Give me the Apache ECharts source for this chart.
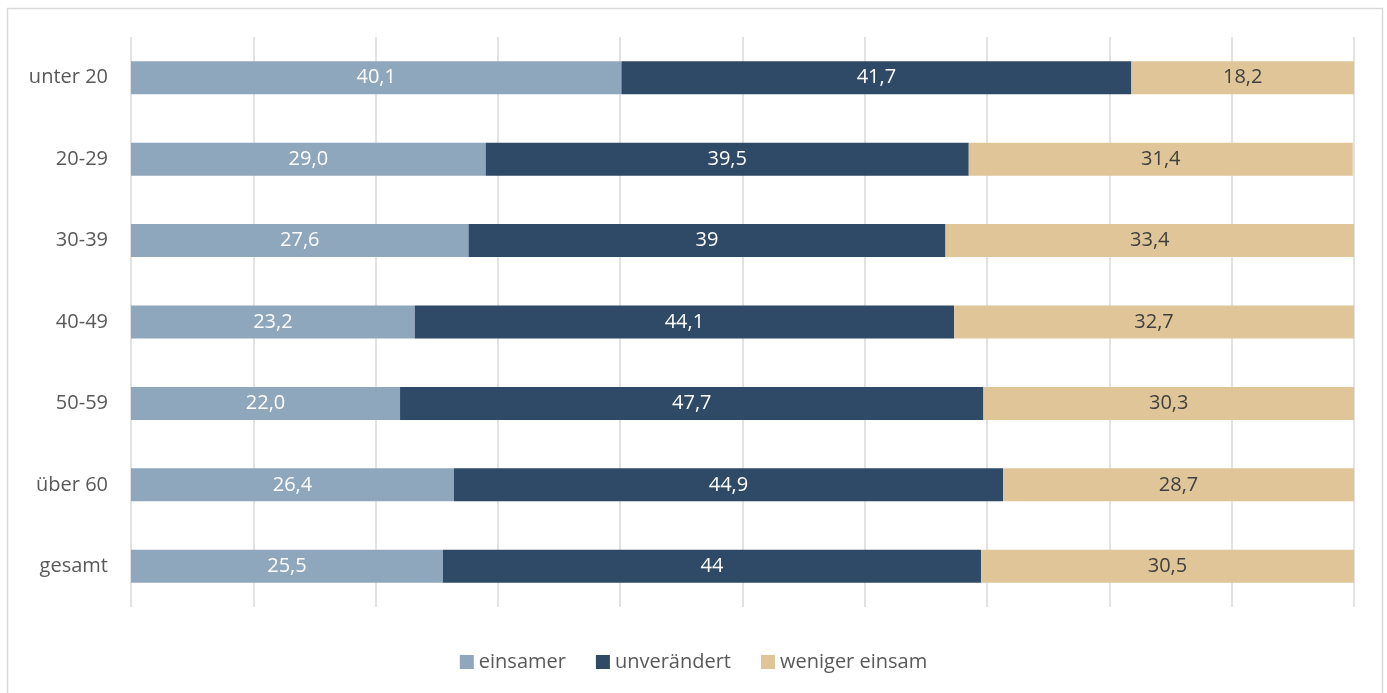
<!DOCTYPE html>
<html>
<head>
<meta charset="utf-8">
<style>
  html, body { margin: 0; padding: 0; background: #fff; }
  #chart { width: 1387px; height: 693px; }
</style>
<script src="https://cdn.jsdelivr.net/npm/echarts@6/dist/echarts.min.js"></script>
</head>
<body>
<div id="chart"></div>
<script>
// Age groups, top to bottom
const categories = ['unter 20', '20-29', '30-39', '40-49', '50-59', 'über 60', 'gesamt'];
// Shares in percent, written as printed (decimal places kept for the labels)
const einsamer      = ['40.1', '29.0', '27.6', '23.2', '22.0', '26.4', '25.5'];
const unveraendert  = ['41.7', '39.5', '39',   '44.1', '47.7', '44.9', '44'];
const wenigerEinsam = ['18.2', '31.4', '33.4', '32.7', '30.3', '28.7', '30.5'];
const seriesNames = ['einsamer', 'unverändert', 'weniger einsam'];

const FONT = '"Open Sans", "Noto Sans", sans-serif';
const chart = echarts.init(document.getElementById('chart'), null, { renderer: 'canvas' });

function barSeries(name, values, color, labelColor) {
  return {
    name: name,
    type: 'bar',
    stack: 'total',
    barWidth: 33,
    data: values,
    itemStyle: { color: color },
    label: {
      show: true,
      position: 'inside',
      color: labelColor,
      fontFamily: FONT,
      fontSize: 20,
      formatter: p => String(p.data).replace('.', ',')
    },
    emphasis: { disabled: true }
  };
}

chart.setOption({
  animation: false,
  backgroundColor: '#fff',
  grid: { left: 131, right: 33, top: 37, bottom: 86, containLabel: false },
  xAxis: {
    type: 'value',
    min: 0,
    max: 100,
    interval: 10,
    axisLabel: { show: false },
    axisLine: { show: false },
    axisTick: { show: false },
    splitLine: { show: true, lineStyle: { color: '#d9d9d9', width: 1.5 } }
  },
  yAxis: {
    type: 'category',
    inverse: true,
    data: categories,
    axisLine: { show: false },
    axisTick: { show: false },
    axisLabel: { color: '#595959', fontFamily: FONT, fontSize: 20, margin: 23 }
  },
  legend: {
    bottom: 16,
    left: 'center',
    itemWidth: 14,
    itemHeight: 14,
    itemGap: 30,
    icon: 'rect',
    textStyle: { color: '#595959', fontFamily: FONT, fontSize: 20 },
    data: seriesNames
  },
  graphic: [{
    type: 'rect',
    shape: { x: 7.5, y: 8.5, width: 1375, height: 700 },
    style: { fill: 'none', stroke: '#d9d9d9', lineWidth: 1.5 },
    silent: true
  }],
  series: [
    barSeries(seriesNames[0], einsamer, '#8fa7bc', '#ffffff'),
    barSeries(seriesNames[1], unveraendert, '#2e4a66', '#ffffff'),
    barSeries(seriesNames[2], wenigerEinsam, '#dfc597', '#404040')
  ]
});
</script>
</body>
</html>
